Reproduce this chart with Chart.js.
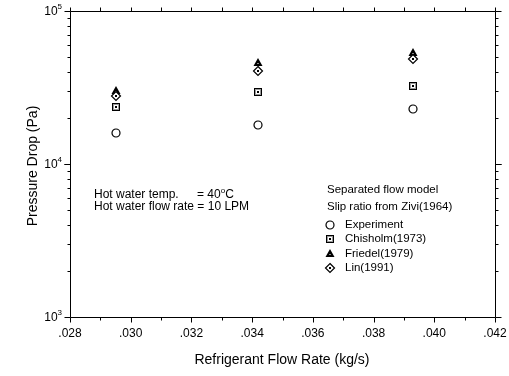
<!DOCTYPE html>
<html>
<head>
<meta charset="utf-8">
<script src="https://cdn.jsdelivr.net/npm/chart.js@4.4.0/dist/chart.umd.min.js"></script>
<style>
  html, body { margin: 0; padding: 0; background: #fff; }
  #wrap { width: 509px; height: 376px; position: relative; }
</style>
</head>
<body>
<div id="wrap"><canvas id="c"></canvas></div>
<script>
// data
const flowRates = [0.0295, 0.0342, 0.0393];
const experiment = [16000, 18000, 22900];
const chisholm = [23500, 29500, 32300];
const friedel = [30000, 46000, 53000];
const lin = [28000, 40700, 48500];

const xTickValues = [0.028, 0.030, 0.032, 0.034, 0.036, 0.038, 0.040, 0.042];
const xTickLabels = ['.028', '.030', '.032', '.034', '.036', '.038', '.040', '.042'];
const yDecades = [1000, 10000, 100000];
const yDecadeExp = ['3', '4', '5'];

const seriesNames = ['Experiment', 'Chisholm(1973)', 'Friedel(1979)', 'Lin(1991)'];
const FONT = '"Liberation Sans", Arial, sans-serif';

// 12x12 sprites, centre on the pixel corner (6,6) so they stay crisp
function makeMarker(kind) {
  const c = document.createElement('canvas');
  c.width = 12; c.height = 12;
  const g = c.getContext('2d');
  g.strokeStyle = '#000';
  g.fillStyle = '#000';
  g.lineWidth = 1;
  if (kind === 'circle') {
    g.lineWidth = 1.2;
    g.beginPath();
    g.arc(6, 6, 4, 0, Math.PI * 2);
    g.stroke();
  } else if (kind === 'square') {
    g.strokeRect(2.5, 2.5, 7, 7);
    g.fillStyle = '#999';
    g.fillRect(3, 3, 6, 6);
    g.fillStyle = '#fff';
    g.fillRect(4, 4, 4, 4);
    g.fillStyle = '#000';
    g.fillRect(5, 5, 2, 2);
  } else if (kind === 'triangle') {
    g.beginPath();
    g.moveTo(6, 1);
    g.lineTo(10.5, 9);
    g.lineTo(1.5, 9);
    g.closePath();
    g.fill();
    g.fillStyle = '#888';
    g.fillRect(5, 6, 2, 1);
  } else if (kind === 'diamond') {
    g.beginPath();
    g.moveTo(6, 1.5);
    g.lineTo(10.5, 6);
    g.lineTo(6, 10.5);
    g.lineTo(1.5, 6);
    g.closePath();
    g.fillStyle = '#fff';
    g.fill();
    g.lineWidth = 1.2;
    g.stroke();
    g.fillStyle = '#000';
    g.fillRect(5, 5, 2, 2);
  }
  return c;
}

const markers = {
  circle: makeMarker('circle'),
  square: makeMarker('square'),
  triangle: makeMarker('triangle'),
  diamond: makeMarker('diamond'),
};
const markerKinds = ['circle', 'square', 'triangle', 'diamond'];

function pts(ys) {
  return flowRates.map((x, i) => ({ x: x, y: ys[i] }));
}

// snap point elements to whole pixels so the sprites are not blurred
const snap = {
  id: 'snap',
  beforeDatasetsDraw(chart) {
    chart.data.datasets.forEach((d, i) => {
      chart.getDatasetMeta(i).data.forEach(p => {
        p.x = Math.round(p.x);
        p.y = Math.round(p.y);
      });
    });
  }
};

const frame = {
  id: 'frame',
  afterDraw(chart) {
    const ctx = chart.ctx;
    const a = chart.chartArea;
    const xs = chart.scales.x;
    const ys = chart.scales.y;
    ctx.save();
    ctx.strokeStyle = '#000';
    ctx.lineWidth = 1;
    const L = Math.round(a.left) + 0.5, R = Math.round(a.right) + 0.5;
    const T = Math.round(a.top) + 0.5, B = Math.round(a.bottom) + 0.5;
    ctx.beginPath();
    ctx.rect(L, T, R - L, B - T);
    ctx.stroke();

    // x ticks, every .001, outward top and bottom
    ctx.beginPath();
    for (let k = 0; k <= 14; k++) {
      const v = 0.028 + k * 0.001;
      const px = Math.round(xs.getPixelForValue(v)) + 0.5;
      const len = k % 2 === 0 ? 5 : 3;
      ctx.moveTo(px, B); ctx.lineTo(px, B + len);
      ctx.moveTo(px, T); ctx.lineTo(px, T - 4);
    }
    // y ticks, log minor, outward left and right
    for (let d = 1000; d < 100000; d *= 10) {
      for (let m = 1; m <= 10; m++) {
        const py = Math.round(ys.getPixelForValue(d * m)) + 0.5;
        const major = m === 1 || m === 10;
        ctx.moveTo(L, py); ctx.lineTo(L - (major ? 6 : 3), py);
        ctx.moveTo(R, py); ctx.lineTo(R + (major ? 6 : 3), py);
      }
    }
    ctx.stroke();

    ctx.fillStyle = '#000';
    // x tick labels
    ctx.font = '12px ' + FONT;
    ctx.textAlign = 'center';
    ctx.textBaseline = 'middle';
    xTickValues.forEach((v, i) => {
      ctx.fillText(xTickLabels[i], xs.getPixelForValue(v), 334);
    });
    // y tick labels 10^n
    yDecades.forEach((v, i) => {
      const py = ys.getPixelForValue(v);
      ctx.font = '8px ' + FONT;
      const sw = ctx.measureText(yDecadeExp[i]).width;
      ctx.textAlign = 'right';
      ctx.textBaseline = 'middle';
      ctx.fillText(yDecadeExp[i], 62, py - 4);
      ctx.font = '12px ' + FONT;
      ctx.fillText('10', 62 - sw, py + 1);
    });

    // axis titles
    ctx.font = '14px ' + FONT;
    ctx.textAlign = 'center';
    ctx.textBaseline = 'middle';
    ctx.fillText('Refrigerant Flow Rate (kg/s)', 282, 360);
    ctx.save();
    ctx.translate(33, 166);
    ctx.rotate(-Math.PI / 2);
    ctx.fillText('Pressure Drop (Pa)', 0, 0);
    ctx.restore();

    // condition note
    ctx.font = '12px ' + FONT;
    ctx.textAlign = 'left';
    ctx.fillText('Hot water temp.', 94, 195);
    ctx.fillText('= 40', 197, 195);
    const w40 = ctx.measureText('= 40').width;
    ctx.font = '8px ' + FONT;
    ctx.fillText('o', 197 + w40, 191);
    const wo = ctx.measureText('o').width;
    ctx.font = '12px ' + FONT;
    ctx.fillText('C', 197 + w40 + wo, 195);
    ctx.fillText('Hot water flow rate = 10 LPM', 94, 207);

    // legend
    ctx.font = '11.5px ' + FONT;
    ctx.fillText('Separated flow model', 327, 190);
    ctx.fillText('Slip ratio from Zivi(1964)', 327, 207);
    const rows = [224.5, 239, 253.5, 268];
    seriesNames.forEach((name, i) => {
      ctx.drawImage(markers[markerKinds[i]], 330 - 6, Math.round(rows[i]) - 6);
      ctx.fillText(name, 345, rows[i]);
    });
    ctx.restore();
  }
};

function ds(label, ys, kind) {
  return {
    label: label,
    data: pts(ys),
    pointStyle: markers[kind],
    pointRadius: 5,
    pointHoverRadius: 5,
    showLine: false,
  };
}

new Chart(document.getElementById('c'), {
  type: 'scatter',
  data: {
    datasets: [
      ds(seriesNames[0], experiment, 'circle'),
      ds(seriesNames[1], chisholm, 'square'),
      ds(seriesNames[3], lin, 'diamond'),
      ds(seriesNames[2], friedel, 'triangle'),
    ],
  },
  options: {
    responsive: true,
    maintainAspectRatio: false,
    animation: false,
    layout: { padding: { left: 70, right: 14, top: 11, bottom: 59 } },
    plugins: { legend: { display: false }, tooltip: { enabled: false } },
    scales: {
      x: { type: 'linear', min: 0.028, max: 0.042, display: false },
      y: { type: 'logarithmic', min: 1000, max: 100000, display: false },
    },
  },
  plugins: [snap, frame],
});
</script>
</body>
</html>
